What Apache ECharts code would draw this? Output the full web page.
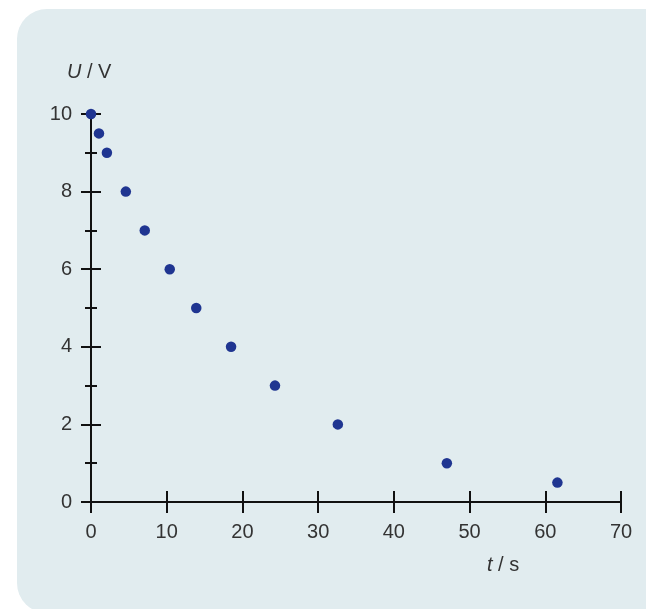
<!DOCTYPE html>
<html>
<head>
<meta charset="utf-8">
<script src="https://cdn.jsdelivr.net/npm/echarts@6/dist/echarts.min.js"></script>
<style>
html,body{margin:0;padding:0;background:#ffffff;}
#chart{width:646px;height:609px;}
</style>
</head>
<body>
<div id="chart"></div>
<script>
const timeSeconds = [0, 1.05, 2.1, 4.6, 7.1, 10.4, 13.9, 18.5, 24.3, 32.6, 47.0, 61.6];
const voltage = [10, 9.5, 9, 8, 7, 6, 5, 4, 3, 2, 1, 0.5];
const xTicks = [0, 10, 20, 30, 40, 50, 60, 70];
const yTicks = [0, 2, 4, 6, 8, 10];

const points = timeSeconds.map((t, i) => [t, voltage[i]]);
const font = 'Liberation Sans, Arial, sans-serif';
const textColor = '#333333';
const fs = 20;
const tickStyle = { color: '#111', width: 2 };
const xMin = xTicks[0], xMax = xTicks[xTicks.length - 1];
const yMin = yTicks[0], yMax = yTicks[yTicks.length - 1];

function yAx(interval, offset, len, showLine, labels) {
  return { type: 'value', min: yMin, max: yMax, interval: interval, position: 'left', offset: offset,
    axisLine: { show: showLine, onZero: false, lineStyle: tickStyle }, splitLine: { show: false },
    axisTick: { show: len > 0, inside: false, length: len, lineStyle: tickStyle },
    axisLabel: labels ? { margin: 19, fontSize: fs, fontFamily: font, color: textColor } : { show: false } };
}
function xAx(offset, len, showLine, labels) {
  return { type: 'value', min: xMin, max: xMax, interval: 10, position: 'bottom', offset: offset,
    axisLine: { show: showLine, onZero: false, lineStyle: tickStyle }, splitLine: { show: false },
    axisTick: { show: len > 0, inside: false, length: len, lineStyle: tickStyle },
    axisLabel: labels ? { margin: 20, fontSize: fs, fontFamily: font, color: textColor } : { show: false } };
}
const rich = { i: { fontStyle: 'italic', fontSize: fs, fontFamily: font, fill: textColor } };

const chart = echarts.init(document.getElementById('chart'));
chart.setOption({
  backgroundColor: '#ffffff',
  animation: false,
  graphic: [
    { type: 'rect', z: -10, shape: { x: 17, y: 9, width: 680, height: 604, r: 30 }, style: { fill: '#e1ecef' } },
    { type: 'text', left: 67, top: 62, style: { text: '{i|U} / V', rich: rich, fontSize: fs, fontFamily: font, fill: textColor } },
    { type: 'text', left: 487, top: 555, style: { text: '{i|t} / s', rich: rich, fontSize: fs, fontFamily: font, fill: textColor } }
  ],
  grid: { left: 91, right: 25, top: 114, bottom: 107, containLabel: false },
  xAxis: [ xAx(0, 0, true, true), xAx(-11, 22, false, false) ],
  yAxis: [ yAx(2, 0, 0, true, true), yAx(2, -10, 20, false, false), yAx(1, -6, 12, false, false) ],
  series: [{
    type: 'scatter', xAxisIndex: 0, yAxisIndex: 0, data: points,
    symbol: 'circle', symbolSize: 10.5,
    itemStyle: { color: '#1f3591', opacity: 1 }, z: 5
  }]
});
</script>
</body>
</html>
